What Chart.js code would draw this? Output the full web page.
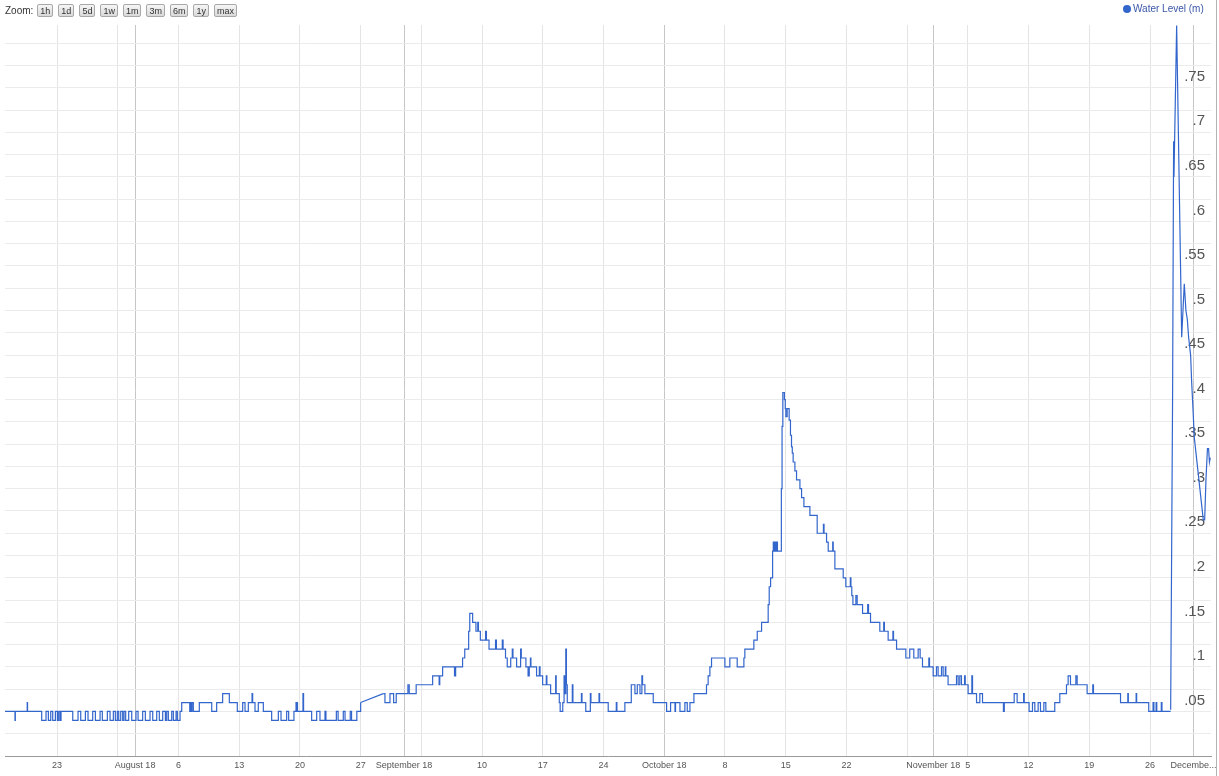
<!DOCTYPE html>
<html>
<head>
<meta charset="utf-8">
<title>Water Level</title>
<script src="https://cdn.jsdelivr.net/npm/chart.js@4.4.1/dist/chart.umd.min.js"></script>
<style>
  html, body { margin: 0; padding: 0; background: #fff; }
  #wrap { position: relative; width: 1216px; height: 776px; border-right: 1px solid #b4b4b4; }
  #chart-box { position: absolute; left: 0; top: 0; width: 1216px; height: 776px; }
  #zoom-bar {
    position: absolute; left: 5px; top: 4px; display: flex; align-items: center;
    font: 10px "Liberation Sans", Arial, sans-serif; color: #333;
  }
  #zoom-bar button {
    height: 13px; padding: 0 2px; margin: 0 0 0 5px; line-height: 11px;
    font: 9px "Liberation Sans", Arial, sans-serif; color: #333;
    background: linear-gradient(#f6f6f6, #d9d9d9); border: 1px solid #a8a8a8; border-radius: 2px;
  }
  #zoom-bar button:first-of-type { margin-left: 4px; }
  #legend {
    position: absolute; left: 1123px; top: 3px; display: flex; align-items: center;
    font: 10px "Liberation Sans", Arial, sans-serif; color: #3a58a8;
  }
  #legend .dot { width: 8px; height: 8px; border-radius: 50%; background: #3366cc; margin-right: 2px; }
</style>
</head>
<body>
<div id="wrap">
  <div id="chart-box"><canvas id="level-chart"></canvas></div>
  <div id="zoom-bar">Zoom:
    <button>1h</button><button>1d</button><button>5d</button><button>1w</button><button>1m</button>
    <button>3m</button><button>6m</button><button>1y</button><button>max</button>
  </div>
  <div id="legend"><span class="dot"></span>Water Level (m)</div>
</div>

<script>
// x values are days counted from Monday 23 July 2018
const monthTickDays = [9, 40, 70, 101, 131];
const monthTickLabels = ["August 18", "September 18", "October 18", "November 18", "Decembe..."];
const weekTickDays = [0, 7, 14, 21, 28, 35, 42, 49, 56, 63, 77, 84, 91, 98, 105, 112, 119, 126];
const weekTickLabels = ["23", "", "6", "13", "20", "27", "", "10", "17", "24", "8", "15", "22", "", "5", "12", "19", "26"];

// readings as [day, metres]; stepped series list the moment the level changes
const summerReadings = [
  [-6.00, .05], [-4.85, .04], [-4.81, .05], [-3.44, .06], [-3.40, .05],
  [-1.77, .04], [-1.27, .05], [-1.00, .04], [-0.73, .05], [-0.50, .04], [-0.19, .05], [0.04, .04], [0.19, .05], [0.35, .04], [0.46, .05],
  [1.81, .04], [2.42, .05], [2.73, .04], [3.27, .05], [3.57, .04], [4.11, .05], [4.42, .04], [4.96, .05], [5.22, .04], [5.80, .05],
  [6.11, .04], [6.49, .05], [6.72, .04], [6.95, .05], [7.11, .04], [7.34, .05], [7.57, .04], [7.72, .05], [7.91, .04], [8.26, .05],
  [8.61, .04], [9.10, .05], [9.34, .04], [9.87, .05], [10.18, .04], [10.72, .05], [11.03, .04], [11.49, .05], [11.79, .04], [12.18, .05],
  [12.49, .04], [12.64, .05], [12.83, .04], [13.22, .05], [13.41, .04], [13.72, .05], [13.87, .04], [14.18, .05],
  [14.37, .06], [15.30, .05], [15.36, .06], [15.50, .05], [15.56, .06], [15.71, .05], [16.40, .06], [17.83, .05], [18.40, .06],
  [19.09, .07], [19.86, .06], [20.78, .05], [21.40, .06], [21.67, .05], [22.05, .06], [22.48, .07], [22.55, .06], [22.82, .05],
  [23.20, .06], [23.78, .05], [24.74, .04], [25.51, .05], [25.82, .04], [26.47, .05], [26.70, .04], [27.31, .05], [27.55, .06],
  [27.62, .05], [27.66, .06], [27.72, .05], [28.35, .07], [28.42, .05], [29.35, .04], [29.93, .05], [30.31, .04], [30.89, .05],
  [31.00, .04], [32.20, .05], [32.40, .04], [33.00, .05], [33.20, .04], [33.80, .05], [33.95, .04], [34.56, .05], [35.00, .06]
];

// gap in the logger: two readings joined by a straight line
const augustGap = [[35.00, .06], [37.61, .07]];

const autumnReadings = [
  [37.61, .07], [37.80, .06], [38.38, .07], [38.80, .06], [39.10, .07], [40.45, .08], [40.60, .07], [41.40, .08],
  [43.30, .09], [44.05, .08], [44.12, .09], [44.45, .10], [45.82, .09], [45.95, .10], [46.75, .11], [47.00, .12], [47.45, .14], [47.58, .16],
  [47.91, .15], [48.29, .14], [48.50, .15], [48.58, .14], [48.80, .13], [49.40, .14], [49.50, .13], [49.80, .12], [50.55, .13], [50.65, .12],
  [51.33, .13], [51.42, .12], [51.70, .11], [51.90, .10], [52.30, .11], [52.48, .12], [52.56, .11], [52.98, .10], [53.44, .12], [53.52, .11],
  [54.05, .10], [54.30, .09], [54.44, .10], [54.57, .11], [54.63, .10], [55.28, .09], [55.60, .10], [55.68, .09], [55.98, .08], [56.40, .09],
  [56.47, .08], [56.90, .07], [57.48, .09], [57.54, .07], [57.90, .06], [58.00, .05], [58.30, .06], [58.45, .09], [58.52, .07], [58.65, .12],
  [58.72, .08], [58.82, .06], [59.40, .08], [59.47, .06], [60.45, .07], [60.52, .06], [60.95, .05], [61.48, .07], [61.55, .06], [62.48, .07],
  [62.55, .06], [63.54, .05], [64.47, .06], [64.54, .05], [65.46, .06], [66.20, .08], [66.62, .07], [66.89, .08], [67.20, .07], [67.42, .09],
  [67.50, .08], [67.77, .07], [68.73, .06], [70.27, .05], [70.73, .06], [71.24, .05], [71.30, .06], [71.81, .05], [72.38, .06], [72.65, .05],
  [72.96, .06], [73.42, .07], [74.87, .08], [75.06, .09], [75.26, .10], [75.45, .11], [76.99, .10], [77.56, .11], [78.41, .10], [79.18, .11],
  [79.29, .12], [80.33, .13], [80.72, .14], [81.22, .15], [81.98, .17], [82.10, .19], [82.26, .20], [82.49, .23], [82.57, .24], [82.70, .23],
  [82.78, .24], [82.88, .23], [82.96, .24], [83.05, .23], [83.50, .30], [83.58, .37], [83.67, .408], [83.85, .40], [83.95, .39], [84.02, .381],
  [84.17, .39], [84.40, .377], [84.55, .36], [84.67, .347], [84.76, .34], [84.86, .33], [85.06, .32], [85.25, .31], [85.64, .30], [85.83, .29],
  [86.10, .28], [86.79, .27], [87.63, .25], [88.35, .26], [88.42, .25], [88.71, .24], [88.90, .23], [89.42, .24], [89.48, .23], [89.67, .21],
  [90.63, .20], [90.93, .19], [91.45, .20], [91.52, .19], [91.62, .18], [91.75, .17], [92.09, .18], [92.24, .17], [92.86, .16], [93.45, .17],
  [93.55, .16], [93.78, .15], [94.85, .14], [95.30, .15], [95.38, .14], [95.81, .13], [96.36, .14], [96.43, .13], [96.78, .12], [97.85, .11],
  [98.30, .12], [98.77, .11], [99.27, .12], [99.50, .11], [99.77, .10], [100.50, .11], [100.58, .10], [101.00, .09], [101.38, .10], [101.57, .09],
  [101.96, .10], [102.15, .09], [102.40, .10], [102.46, .09], [102.72, .08], [103.69, .09], [103.88, .08], [104.07, .09], [104.26, .08], [104.62, .09],
  [104.70, .08], [105.03, .07], [105.46, .09], [105.54, .07], [106.00, .06], [106.38, .07], [106.69, .06], [109.10, .05], [109.20, .06], [110.34, .07],
  [110.68, .06], [111.43, .07], [111.50, .06], [112.06, .05], [112.45, .06], [112.72, .05], [113.10, .06], [113.37, .05], [113.76, .06], [113.99, .05],
  [115.02, .06], [115.60, .07], [116.37, .08], [116.56, .09], [116.83, .08], [117.45, .09], [117.60, .08], [118.75, .07], [119.40, .08], [119.48, .07],
  [122.60, .06], [123.44, .07], [123.50, .06], [124.40, .07], [124.46, .06], [125.85, .05], [126.35, .06], [126.45, .05], [126.70, .06], [126.78, .05],
  [127.30, .06], [127.38, .05], [128.38, .05]
];

// early December storm, readings joined directly
const decemberSurge = [
  [128.38, .052], [128.60, .40], [128.72, .69], [128.76, .65], [129.07, .82], [129.65, .47], [129.95, .53], [130.14, .50],
  [130.30, .49], [130.45, .47], [130.68, .45], [130.80, .42], [130.98, .384], [131.10, .358], [131.30, .34], [132.14, .265],
  [132.30, .265], [132.45, .31], [132.62, .345], [132.75, .345], [132.85, .33], [132.95, .335]
];

const lineColor = "#3366cc";
const axisFont = "'Liberation Sans', Arial, sans-serif";

const seriesStyle = (data, stepped) => ({
  data,
  stepped,
  borderColor: lineColor,
  borderWidth: 1.2,
  pointRadius: 0,
  tension: 0,
  fill: false
});

const xLabel = (value) => {
  const m = monthTickDays.indexOf(value);
  if (m >= 0) return monthTickLabels[m];
  const w = weekTickDays.indexOf(value);
  return w >= 0 ? weekTickLabels[w] : "";
};

const yLabel = (value) => {
  const r = Math.round(value * 1000);
  if (r <= 0 || r > 750 || r % 50 !== 0) return "";
  return (r / 1000).toString().replace(/^0/, "");
};

// only the quarter-step lines are drawn, not the top edge
const yGridColor = (c) => {
  if (!c.tick) return "transparent";
  const r = Math.round(c.tick.value * 1000);
  return r % 25 === 0 ? "#ebebeb" : "transparent";
};

const ctx = document.getElementById("level-chart").getContext("2d");
new Chart(ctx, {
  type: "line",
  data: {
    datasets: [
      seriesStyle(summerReadings, "before"),
      seriesStyle(augustGap, false),
      seriesStyle(autumnReadings, "before"),
      seriesStyle(decemberSurge, false)
    ]
  },
  options: {
    responsive: true,
    maintainAspectRatio: false,
    animation: false,
    layout: { padding: { left: 5, top: 25, right: 0, bottom: 0 } },
    plugins: {
      legend: { display: false },
      tooltip: { enabled: false }
    },
    scales: {
      x: {
        type: "linear",
        min: -6,
        max: 133.03,
        // month ticks first so the edge labels do not shrink the plot
        afterBuildTicks: (scale) => {
          scale.ticks = monthTickDays.concat(weekTickDays).map(v => ({ value: v }));
        },
        afterFit: (scale) => { scale.height = 20; },
        ticks: {
          autoSkip: false,
          maxRotation: 0,
          padding: 4,
          color: "#555",
          font: { family: axisFont, size: 9 },
          callback: (value) => xLabel(value)
        },
        grid: {
          drawTicks: false,
          color: (c) => (c.tick && monthTickDays.includes(c.tick.value)) ? "#c6c6c6" : "#e4e4e4"
        },
        border: { color: "#9a9a9a" }
      },
      y: {
        type: "linear",
        position: "right",
        min: 0,
        max: 0.8205,
        afterFit: (scale) => { scale.width = 5; },
        ticks: {
          stepSize: 0.025,
          mirror: true,
          padding: -6,
          labelOffset: -11,
          color: "#555",
          font: { family: axisFont, size: 15 },
          callback: (value) => yLabel(value)
        },
        grid: { drawTicks: false, color: yGridColor },
        border: { display: false }
      }
    }
  }
});
</script>
</body>
</html>
